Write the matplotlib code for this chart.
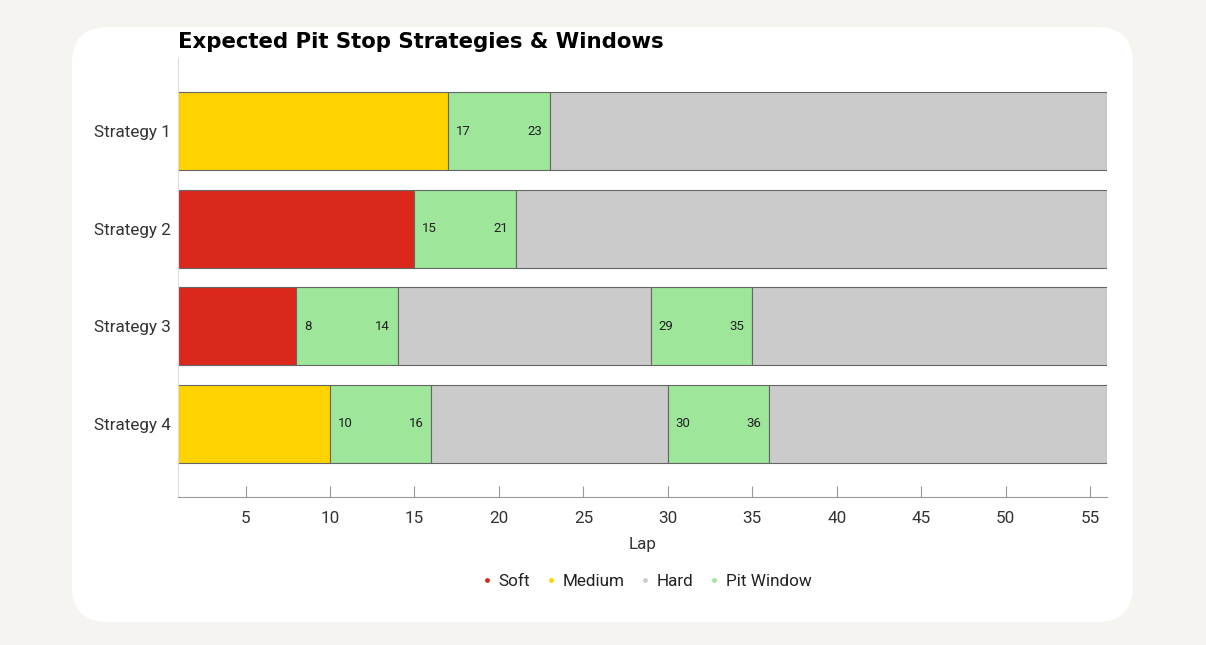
import matplotlib.pyplot as plt
from matplotlib.patches import FancyBboxPatch
from matplotlib.lines import Line2D

# Datos de estrategias (vueltas)
estrategias = ['Strategy 1', 'Strategy 2', 'Strategy 3', 'Strategy 4']
inicio_carrera = 1
fin_carrera = 56

# segmentos por estrategia: (compuesto, desde, hasta)
segmentos = [
    [('Medium', 1, 17), ('Pit', 17, 23), ('Hard', 23, 56)],
    [('Soft', 1, 15), ('Pit', 15, 21), ('Hard', 21, 56)],
    [('Soft', 1, 8), ('Pit', 8, 14), ('Hard', 14, 29), ('Pit', 29, 35), ('Hard', 35, 56)],
    [('Medium', 1, 10), ('Pit', 10, 16), ('Hard', 16, 30), ('Pit', 30, 36), ('Hard', 36, 56)],
]

colores = {
    'Soft': '#da291c',
    'Medium': '#ffd200',
    'Hard': '#cbcbcb',
    'Pit': '#9de69a',
}
leyenda = [('Soft', 'Soft'), ('Medium', 'Medium'), ('Hard', 'Hard'), ('Pit', 'Pit Window')]

W, H = 1206, 645
fig = plt.figure(figsize=(W / 100, H / 100), dpi=100)
fig.patch.set_facecolor('#f5f4f0')

# tarjeta blanca
tarjeta = FancyBboxPatch((72 / W, 23 / H), (1133 - 72) / W, (622 - 27) / H,
                         boxstyle='round,pad=0,rounding_size=0.03',
                         transform=fig.transFigure, facecolor='white',
                         edgecolor='none', mutation_aspect=W / H, zorder=-5)
fig.patches.append(tarjeta)

ax = fig.add_axes([178 / W, (H - 497) / H, (1107 - 178) / W, (497 - 58) / H])
ax.set_facecolor('none')
ax.set_zorder(2)

fuente = 'Roboto'
for i, segs in enumerate(segmentos):
    for comp, a, b in segs:
        ax.barh(i, b - a, left=a, height=0.8, color=colores[comp],
                edgecolor='#666666', linewidth=0.8, zorder=2)
        if comp == 'Pit':
            ax.text(a + 0.45, i, str(a), va='center', ha='left', fontsize=9.5,
                    color='#222222', family=fuente, zorder=3)
            ax.text(b - 0.45, i, str(b), va='center', ha='right', fontsize=9.5,
                    color='#222222', family=fuente, zorder=3)

ax.set_xlim(inicio_carrera, fin_carrera)
ax.set_ylim(3.75, -0.75)
ax.set_yticks(range(len(estrategias)))
ax.set_yticklabels(estrategias, family=fuente, fontsize=12.3, color='#333333')
ax.set_xticks(range(5, 56, 5))
ax.tick_params(axis='x', direction='in', length=8, width=0.8, color='#999999',
               labelsize=12.3, labelcolor='#333333', pad=10)
for lab in ax.get_xticklabels():
    lab.set_family(fuente)
ax.tick_params(axis='y', length=0, pad=5)

for s in ['top', 'right']:
    ax.spines[s].set_visible(False)
ax.spines['left'].set_color('#dddddd')
ax.spines['bottom'].set_color('#999999')
ax.spines['bottom'].set_linewidth(0.8)

ax.set_xlabel('Lap', family=fuente, fontsize=12.3, color='#333333', labelpad=8)

fig.text(178 / W, (H - 42) / H, 'Expected Pit Stop Strategies & Windows',
         family='DejaVu Sans', fontweight='bold', fontsize=15.3, color='black',
         va='center', ha='left')

handles = [Line2D([0], [0], marker='o', linestyle='none', markersize=3.5,
                  markerfacecolor=colores[k], markeredgecolor='none') for k, _ in leyenda]
leg = fig.legend(handles, [t for _, t in leyenda], loc='center',
                 bbox_to_anchor=(645 / W, (H - 581) / H), ncol=4, frameon=False,
                 handletextpad=0.2, columnspacing=0.7, handlelength=1.0,
                 prop={'family': fuente, 'size': 12.3})
for t in leg.get_texts():
    t.set_color('#222222')

fig.savefig('out.png', dpi=100, facecolor=fig.get_facecolor())
